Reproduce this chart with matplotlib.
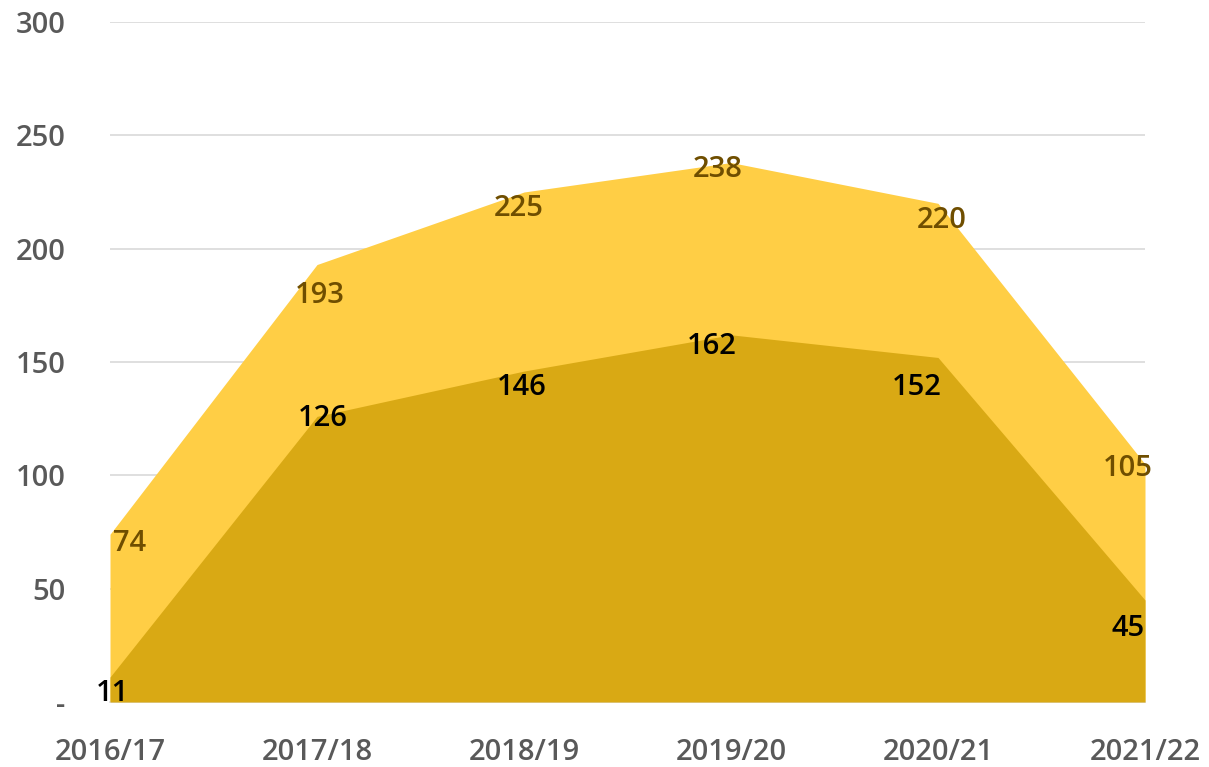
import matplotlib
matplotlib.use("Agg")
import matplotlib.pyplot as plt

years = ["2016/17", "2017/18", "2018/19", "2019/20", "2020/21", "2021/22"]
total = [74, 193, 225, 238, 220, 105]
part = [11, 126, 146, 162, 152, 45]

# label offsets in pixels (dx, dy) from the point, roughly like the Excel layout
total_off = [(20, -9), (3, -31), (-5, -17), (-13, -7), (4, -17), (-17, -5)]
part_off = [(2, -16), (6, -2), (-2, -16), (-19, -12), (-21, -30), (-17, -29)]

plt.rcParams['font.family'] = ['Open Sans', 'DejaVu Sans']

fig = plt.figure(figsize=(12.09, 7.67), dpi=100)
ax = fig.add_axes([110 / 1209, 65 / 767, 1035 / 1209, 680 / 767])

x = list(range(len(years)))
ax.fill_between(x, 0, total, color="#FFCE45", lw=0, zorder=2)
ax.fill_between(x, 0, part, color="#D9A914", lw=0, zorder=3)

for i, v in enumerate(total):
    ax.annotate(str(v), (i, v), xytext=total_off[i], textcoords="offset pixels",
                ha="center", va="center", fontsize=21, fontweight="semibold",
                color="#6F4E00", zorder=5)
for i, v in enumerate(part):
    ax.annotate(str(v), (i, v), xytext=part_off[i], textcoords="offset pixels",
                ha="center", va="center", fontsize=21, fontweight="semibold",
                color="black", zorder=5)

ax.set_xlim(0, 5)
ax.set_ylim(0, 300)
ax.set_yticks(range(0, 301, 50))
ax.set_yticklabels(["-"] + [str(v) for v in range(50, 301, 50)])
ax.set_xticks(x)
ax.set_xticklabels(years)
ax.grid(axis="y", color="#D9D9D9", lw=1.2, zorder=0)
ax.tick_params(length=0, labelsize=21, labelcolor="#595959")
ax.tick_params(axis="y", pad=32)
ax.tick_params(axis="x", pad=26)
for lab in ax.get_xticklabels() + ax.get_yticklabels():
    lab.set_fontweight("semibold")
for s in ["top", "right", "left"]:
    ax.spines[s].set_visible(False)
ax.spines["bottom"].set_color("#D9D9D9")
ax.spines["bottom"].set_linewidth(1.2)

fig.savefig("out.png", dpi=100)
